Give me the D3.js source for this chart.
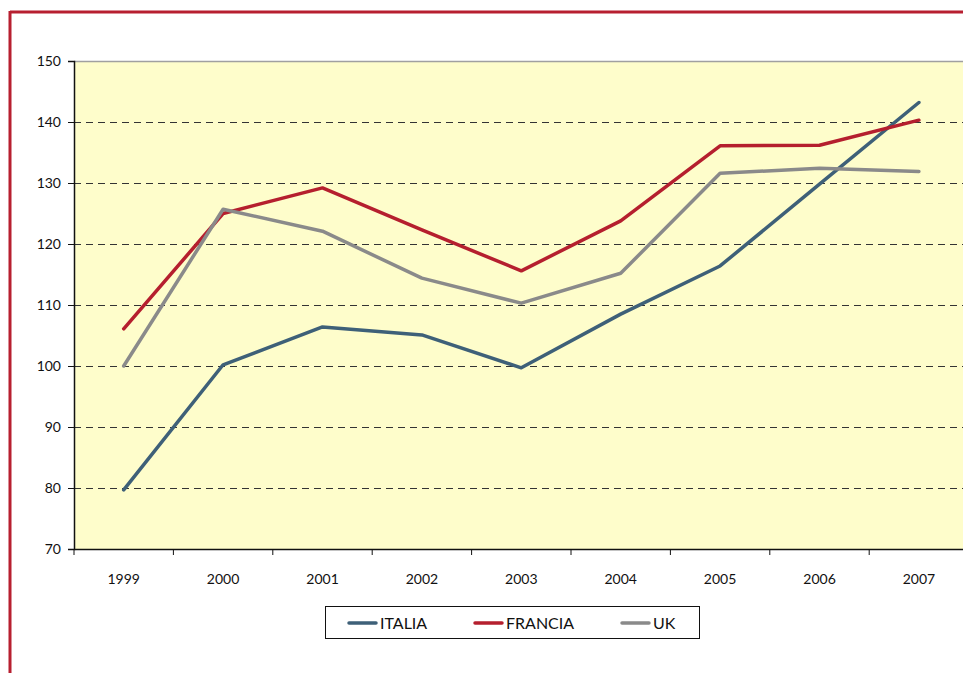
<!DOCTYPE html>
<html><head><meta charset="utf-8">
<script src="https://cdn.jsdelivr.net/npm/d3@7"></script>
<style>html,body{margin:0;padding:0;background:#fff;overflow:hidden}svg{display:block}</style>
</head><body>
<svg id="c" width="963" height="673"></svg>
<script>
const years = ["1999","2000","2001","2002","2003","2004","2005","2006","2007"];
const italia = [79.7,100.2,106.4,105.1,99.7,108.5,116.4,129.8,143.2];
const francia = [106.1,125.0,129.2,122.3,115.6,123.8,136.1,136.2,140.3];
const uk = [100.0,125.7,122.1,114.4,110.3,115.2,131.6,132.4,131.9];
const yTicks = [70,80,90,100,110,120,130,140,150];
const seriesNames = ["ITALIA","FRANCIA","UK"];
const seriesColors = ["#3e6078","#b51f2e","#8a8a8a"];

const svg = d3.select("#c");
const font = "'Lato','DejaVu Sans',sans-serif";
// red frame
svg.append("line").attr("x1",10).attr("x2",963).attr("y1",12).attr("y2",12).attr("stroke","#b71f30").attr("stroke-width",3);
svg.append("line").attr("x1",10).attr("x2",10).attr("y1",11).attr("y2",673).attr("stroke","#b71f30").attr("stroke-width",3);

const L=74, T=61, B=549, R=74+99.4*9;
const x = d3.scaleBand().domain(years).range([L,R]);
const y = d3.scaleLinear().domain([70,150]).range([B,T]);

svg.append("rect").attr("x",L).attr("y",T).attr("width",R-L).attr("height",B-T).attr("fill","#fefdcb");
svg.append("line").attr("x1",L).attr("x2",R).attr("y1",T+0.5).attr("y2",T+0.5).attr("stroke","#a0a0a0").attr("stroke-width",1.5);

// gridlines
svg.append("g").selectAll("line").data(yTicks.filter(d=>d>70&&d<150)).join("line")
  .attr("x1",L).attr("x2",R).attr("y1",d=>Math.round(y(d))+0.5).attr("y2",d=>Math.round(y(d))+0.5)
  .attr("stroke","#333").attr("stroke-width",1).attr("stroke-dasharray","7,5");

// y axis
const ya = svg.append("g").attr("transform",`translate(${L},0)`)
  .call(d3.axisLeft(y).tickValues(yTicks).tickSize(6).tickPadding(7).tickFormat(d3.format("d")));
ya.select(".domain").attr("stroke","#111").attr("stroke-width",1.5);
ya.selectAll(".tick line").attr("stroke","#111");
ya.selectAll("text").attr("font-family",font).attr("font-size",14).attr("fill","#111");

// x axis
const xa = svg.append("g").attr("transform",`translate(0,${B})`)
  .call(d3.axisBottom(x).tickSize(0).tickPadding(25));
xa.select(".domain").attr("stroke","#111").attr("stroke-width",1.5);
xa.selectAll("text").attr("font-family",font).attr("font-size",14).attr("fill","#111");
svg.append("g").selectAll("line").data(years).join("line")
  .attr("x1",d=>x(d)).attr("x2",d=>x(d)).attr("y1",B).attr("y2",B+6).attr("stroke","#111");

// lines
const data = [italia,francia,uk];
const line = d3.line().x((d,i)=>x(years[i])+x.bandwidth()/2).y(d=>y(d));
data.forEach((s,k)=>{
  svg.append("path").attr("d",line(s)).attr("fill","none").attr("stroke",seriesColors[k])
    .attr("stroke-width",3.5).attr("stroke-linejoin","round").attr("stroke-linecap","round");
});

// legend
const lg = svg.append("g");
lg.append("rect").attr("x",325.5).attr("y",606.5).attr("width",374).attr("height",32).attr("fill","#fff").attr("stroke","#111").attr("stroke-width",1);
const lx=[349,475,622];
seriesNames.forEach((n,k)=>{
  lg.append("line").attr("x1",lx[k]).attr("x2",lx[k]+27).attr("y1",623).attr("y2",623)
    .attr("stroke",seriesColors[k]).attr("stroke-width",3.5).attr("stroke-linecap","round");
  lg.append("text").attr("x",lx[k]+31).attr("y",629).text(n)
    .attr("font-family",font).attr("font-size",16).attr("fill","#111");
});
</script>
</body></html>
